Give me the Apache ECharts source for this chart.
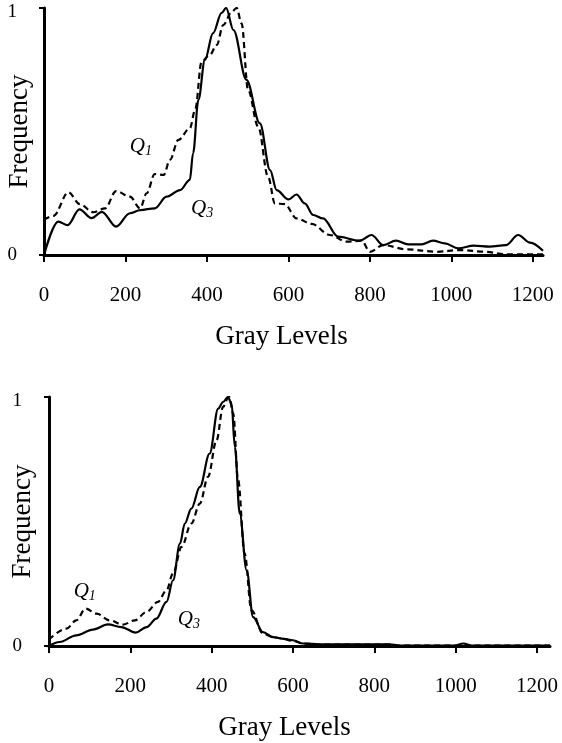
<!DOCTYPE html>
<html>
<head>
<meta charset="utf-8">
<script src="https://cdn.jsdelivr.net/npm/echarts@6/dist/echarts.min.js"></script>
<style>
  html, body { margin: 0; padding: 0; background: #fff; }
  #chart { width: 562px; height: 743px; }
</style>
</head>
<body>
<div id="chart"></div>
<script>
// Gray-level histograms (normalised frequency) for quartiles Q1 and Q3.

// Upper panel
const topQ3Gray = [0, 35, 58, 87, 117, 142, 177, 211, 236, 272, 301, 334, 358, 366, 379, 395, 415, 436, 447, 465, 497, 530, 555, 571, 600, 620, 640, 661, 685, 722, 775, 804, 833, 864, 894, 927, 955, 984, 1017, 1055, 1094, 1134, 1164, 1193, 1225];
const topQ3Freq = [0, 0.135, 0.121, 0.185, 0.149, 0.175, 0.115, 0.169, 0.182, 0.189, 0.236, 0.263, 0.304, 0.412, 0.628, 0.79, 0.898, 0.98, 1.0, 0.911, 0.709, 0.533, 0.344, 0.263, 0.225, 0.245, 0.209, 0.162, 0.148, 0.074, 0.058, 0.081, 0.04, 0.058, 0.043, 0.043, 0.058, 0.047, 0.027, 0.038, 0.034, 0.04, 0.081, 0.05, 0.017];
const topQ1Gray = [0, 23, 60, 88, 121, 150, 177, 211, 236, 252, 272, 294, 309, 330, 358, 371, 387, 407, 424, 440, 461, 473, 485, 501, 526, 550, 567, 591, 620, 657, 702, 743, 780, 800, 833, 890, 964, 1021, 1086, 1130, 1225];
const topQ1Freq = [0.142, 0.158, 0.254, 0.206, 0.173, 0.189, 0.259, 0.236, 0.189, 0.25, 0.328, 0.324, 0.385, 0.466, 0.513, 0.587, 0.783, 0.81, 0.85, 0.931, 0.985, 1.0, 0.938, 0.668, 0.519, 0.317, 0.209, 0.206, 0.148, 0.126, 0.081, 0.054, 0.058, 0.013, 0.04, 0.023, 0.013, 0.02, 0.013, 0.003, 0.003];

// Lower panel
const botQ3Gray = [0, 26, 67, 108, 145, 178, 213, 240, 264, 289, 305, 322, 334, 350, 371, 395, 416, 428, 440, 449, 457, 469, 486, 502, 526, 551, 572, 600, 625, 666, 750, 838, 860, 998, 1019, 1040, 1232];
const botQ3Freq = [0, 0.016, 0.043, 0.066, 0.087, 0.076, 0.054, 0.076, 0.11, 0.177, 0.264, 0.411, 0.492, 0.552, 0.639, 0.773, 0.953, 0.98, 1.0, 0.973, 0.8, 0.532, 0.304, 0.116, 0.056, 0.036, 0.03, 0.023, 0.01, 0.007, 0.007, 0.007, 0.002, 0.002, 0.01, 0.002, 0.002];
const botQ1Gray = [0, 43, 67, 90, 117, 149, 182, 211, 240, 268, 289, 305, 326, 350, 371, 391, 412, 428, 440, 443, 453, 465, 481, 498, 526, 551, 572, 600, 625, 666, 750, 838, 860, 1232];
const botQ1Freq = [0.026, 0.07, 0.103, 0.15, 0.13, 0.103, 0.086, 0.103, 0.137, 0.177, 0.224, 0.291, 0.398, 0.492, 0.572, 0.679, 0.826, 0.96, 0.994, 1.0, 0.933, 0.666, 0.371, 0.143, 0.05, 0.036, 0.03, 0.02, 0.01, 0.006, 0.006, 0.006, 0.002, 0.002];

// Tick labels
const grayTicks = [0, 200, 400, 600, 800, 1000, 1200];
const freqTicks = [0, 1];

// Curve annotations: [gray level, frequency, quartile index]
const topNotes = [[238, 0.44, '1'], [388, 0.19, '3']];
const botNotes = [[88, 0.22, '1'], [344, 0.107, '3']];

const zip = (xs, ys) => xs.map((x, i) => [x, ys[i]]);

const FONT = '"Liberation Serif", "DejaVu Serif", serif';

function xAxisFor(gridIndex, max, nameShift) {
  return {
    type: 'value', gridIndex: gridIndex, min: 0, max: max, interval: 200,
    name: 'Gray Levels', nameLocation: 'middle', nameGap: 68, nameMoveOverlap: false,
    nameTextStyle: { fontFamily: FONT, fontSize: 27, color: '#000', padding: [0, nameShift * 2, 0, 0] },
    axisLine: { show: true, onZero: false, lineStyle: { color: '#000', width: 3 } },
    axisTick: { show: true, length: 7, lineStyle: { color: '#000', width: 2 }, customValues: grayTicks },
    axisLabel: { fontFamily: FONT, fontSize: 21, color: '#000', margin: 30, customValues: grayTicks,
                 formatter: v => String(v) },
    splitLine: { show: false }
  };
}

function yAxisFor(gridIndex, gap) {
  return {
    type: 'value', gridIndex: gridIndex, min: 0, max: 1, interval: 1,
    name: 'Frequency', nameLocation: 'middle', nameGap: gap, nameMoveOverlap: false,
    nameTextStyle: { fontFamily: FONT, fontSize: 27, color: '#000' },
    axisLine: { show: true, lineStyle: { color: '#000', width: 3 } },
    axisTick: { show: true, length: 5, lineStyle: { color: '#000', width: 2 }, customValues: freqTicks },
    axisLabel: {
      fontFamily: FONT, fontSize: 19, color: '#000', margin: 27, customValues: freqTicks,
      // the top label sits a little below the end of the axis
      formatter: v => v === 1 ? '{top|1}' : String(v),
      rich: { top: { fontFamily: FONT, fontSize: 19, color: '#000', padding: [9, 0, 0, 0] } }
    },
    splitLine: { show: false }
  };
}

function curve(gridIndex, data, dashed) {
  return {
    type: 'line', xAxisIndex: gridIndex, yAxisIndex: gridIndex,
    data: data, smooth: 0.35, smoothMonotone: 'x', symbol: 'none', silent: true,
    lineStyle: { color: '#000', width: 2.2, type: dashed ? [6, 4] : 'solid' }
  };
}

const noteRich = {
  q: { fontFamily: FONT, fontStyle: 'italic', fontSize: 21, color: '#000' },
  s: { fontFamily: FONT, fontStyle: 'italic', fontSize: 14, color: '#000', padding: [10, 0, 0, 0] }
};

function notes(gridIndex, list) {
  return {
    type: 'scatter', xAxisIndex: gridIndex, yAxisIndex: gridIndex,
    data: list.map(n => ({ value: [n[0], n[1]], sub: n[2] })),
    symbolSize: 0, silent: true,
    itemStyle: { opacity: 1, color: '#000' },
    label: {
      show: true, position: 'inside', color: '#000', opacity: 1,
      formatter: p => '{q|Q}{s|' + p.data.sub + '}',
      rich: noteRich
    }
  };
}

const chart = echarts.init(document.getElementById('chart'), null, { renderer: 'canvas' });
chart.setOption({
  backgroundColor: '#fff',
  animation: false,
  grid: [
    { left: 44, right: 19, top: 8, bottom: 488, containLabel: false, outerBoundsMode: 'none' },
    { left: 49, right: 12, top: 397, bottom: 97, containLabel: false, outerBoundsMode: 'none' }
  ],
  xAxis: [xAxisFor(0, 1225, 12), xAxisFor(1, 1232, 15)],
  yAxis: [yAxisFor(0, 11), yAxisFor(1, 13)],
  series: [
    curve(0, zip(topQ3Gray, topQ3Freq), false),
    curve(0, zip(topQ1Gray, topQ1Freq), true),
    curve(1, zip(botQ3Gray, botQ3Freq), false),
    curve(1, zip(botQ1Gray, botQ1Freq), true),
    notes(0, topNotes),
    notes(1, botNotes)
  ]
});
</script>
</body>
</html>
